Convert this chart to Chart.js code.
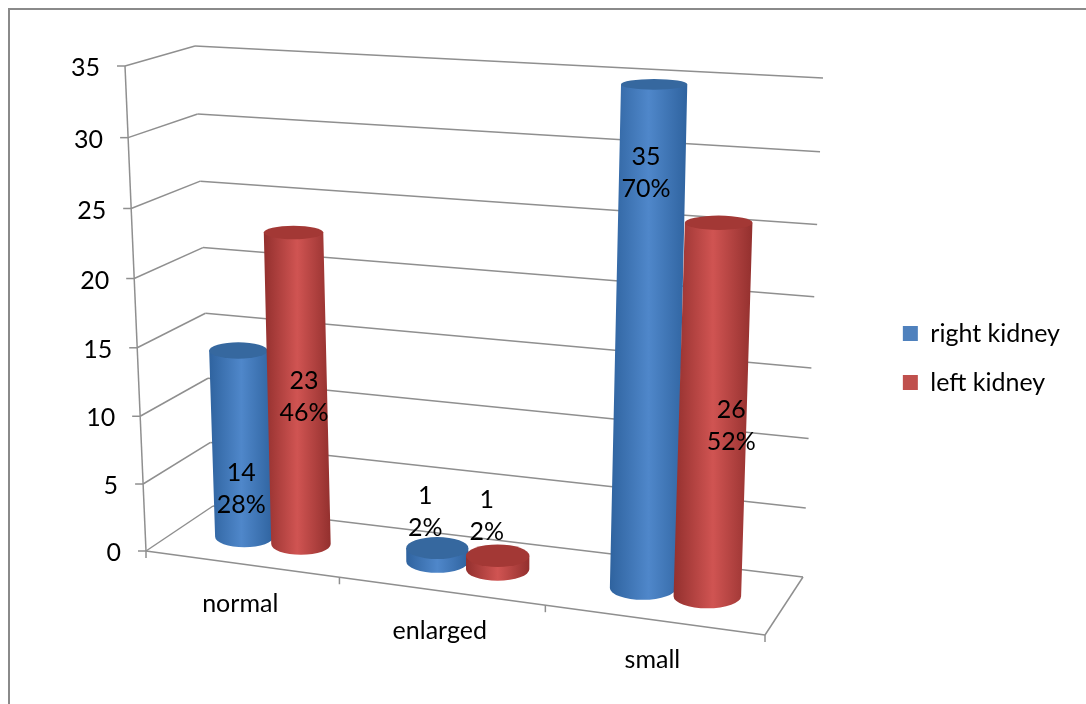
<!DOCTYPE html>
<html lang="en">
  <head>
    <meta charset="UTF-8" />
    <title>Kidney size</title>
    <script src="https://cdn.jsdelivr.net/npm/chart.js"></script>
    <style>
      html, body { margin: 0; padding: 0; background: #fff; overflow: hidden; }
      #kidneyChart { display: block; }
    </style>
  </head>
  <body>
    <canvas id="kidneyChart" width="1086" height="704"></canvas>
    <script>
      var categories = ['normal', 'enlarged', 'small'];
      var rightKidney = [14, 1, 35];
      var leftKidney = [23, 1, 26];
      var rightKidneyPct = ['28%', '2%', '70%'];
      var leftKidneyPct = ['46%', '2%', '52%'];
      var yTicks = [0, 5, 10, 15, 20, 25, 30, 35];

      var FONT = '25px Lato, Carlito, sans-serif';

      // corners of the 3d box on the page, f = front, b = back, l/r, t = top, o = floor
      var box = {
        flo: [146, 551], fro: [765, 635], blo: [213, 506], bro: [803, 577],
        flt: [125, 66], frt: [786, 108], blt: [195, 46], brt: [823, 78]
      };
      var warpX = 0.1;
      var warpY = 0.04;

      function lerp(a, b, t) {
        return [a[0] + (b[0] - a[0]) * t, a[1] + (b[1] - a[1]) * t];
      }

      // u along the categories, v up the value axis, z from front to back, all 0..1
      function project(u, v, z) {
        var uu = u / (1 + warpX * (1 - u));
        var vv = v / (1 + warpY * (1 - v));
        var floor = lerp(lerp(box.flo, box.fro, uu), lerp(box.blo, box.bro, uu), z);
        var top = lerp(lerp(box.flt, box.frt, uu), lerp(box.blt, box.brt, uu), z);
        return lerp(floor, top, vv);
      }

      function line(ctx, a, b) {
        ctx.beginPath();
        ctx.moveTo(a[0], a[1]);
        ctx.lineTo(b[0], b[1]);
        ctx.stroke();
      }

      function drawFrame(ctx) {
        ctx.strokeStyle = '#8a8a8a';
        ctx.lineWidth = 2;
        ctx.beginPath();
        ctx.moveTo(9, 704);
        ctx.lineTo(9, 9);
        ctx.lineTo(1086, 9);
        ctx.stroke();
      }

      function drawWalls(chart, ctx) {
        var y = chart.scales.y;
        var x = chart.scales.x;
        ctx.strokeStyle = '#8f8f8f';
        ctx.lineWidth = 1.5;
        ctx.fillStyle = '#000';
        ctx.font = FONT;
        ctx.textAlign = 'right';
        ctx.textBaseline = 'middle';

        y.ticks.forEach(function (tick) {
          var v = (y.bottom - y.getPixelForValue(tick.value)) / (y.bottom - y.top);
          var front = project(0, v, 0);
          var back = project(0, v, 1);
          line(ctx, front, back);
          line(ctx, back, project(1, v, 1));
          line(ctx, front, [front[0] - 8, front[1]]);
          ctx.fillText(String(tick.value), front[0] - 25, front[1] + 2);
        });
        line(ctx, project(0, 0, 0), project(0, 1, 0));

        // floor front and right edges, ticks between the categories
        line(ctx, project(0, 0, 0), project(1, 0, 0));
        line(ctx, project(1, 0, 0), project(1, 0, 1));
        for (var i = 0; i <= categories.length; i++) {
          var p = project(i / categories.length, 0, 0);
          line(ctx, p, [p[0], p[1] + 7]);
        }

        ctx.textAlign = 'center';
        categories.forEach(function (name, i) {
          var u = (x.getPixelForValue(i) - x.left) / x.width;
          var p = project(u, 0, 0);
          ctx.fillText(name, p[0] - 1, p[1] + 40);
        });
      }

      function drawCylinder(chart, ctx, el, shades) {
        var x = chart.scales.x;
        var y = chart.scales.y;
        var u = (el.x - x.left) / x.width;
        var halfU = el.width / 2 / x.width;
        var v = (y.bottom - el.y) / (y.bottom - y.top);
        var base = project(u, 0, 0.5);
        var top = project(u, v, 0.5);
        var rx = (project(u + halfU, 0, 0.5)[0] - project(u - halfU, 0, 0.5)[0]) / 2;
        var ryBase = rx * 0.36;
        // higher up the ellipses get flatter
        var ryTop = rx * (0.36 - 0.2 * v);

        var grad = ctx.createLinearGradient(Math.min(base[0], top[0]) - rx, 0, Math.max(base[0], top[0]) + rx, 0);
        grad.addColorStop(0, shades.edge);
        grad.addColorStop(0.5, shades.mid);
        grad.addColorStop(1, shades.edge);

        ctx.beginPath();
        ctx.moveTo(top[0] - rx, top[1]);
        ctx.lineTo(base[0] - rx, base[1]);
        ctx.ellipse(base[0], base[1], rx, ryBase, 0, Math.PI, 0, true);
        ctx.lineTo(top[0] + rx, top[1]);
        ctx.closePath();
        ctx.fillStyle = grad;
        ctx.fill();

        ctx.beginPath();
        ctx.ellipse(top[0], top[1], rx, ryTop, 0, 0, Math.PI * 2);
        ctx.fillStyle = shades.top;
        ctx.fill();
      }

      var kidney3d = {
        id: 'kidney3d',
        beforeDatasetsDraw: function (chart, args, opts) {
          var ctx = chart.ctx;
          ctx.save();
          drawFrame(ctx);
          drawWalls(chart, ctx);

          chart.data.datasets.forEach(function (ds, d) {
            chart.getDatasetMeta(d).data.forEach(function (el) {
              drawCylinder(chart, ctx, el, opts.shades[d]);
            });
          });

          // data labels go over all the cylinders
          ctx.fillStyle = '#000';
          ctx.font = FONT;
          ctx.textAlign = 'center';
          ctx.textBaseline = 'middle';
          var pcts = [rightKidneyPct, leftKidneyPct];
          chart.data.datasets.forEach(function (ds, d) {
            chart.getDatasetMeta(d).data.forEach(function (el, i) {
              var x = chart.scales.x;
              var p = project((el.x - x.left) / x.width, 0, 0.5);
              var shift = opts.labelShift[d][i];
              ctx.fillText(String(ds.data[i]), p[0] + shift[0], p[1] - shift[1] - 15);
              ctx.fillText(pcts[d][i], p[0] + shift[0], p[1] - shift[1] + 17);
            });
          });
          ctx.restore();
          return false; // the library's flat bars are replaced by the cylinders
        }
      };

      new Chart(document.getElementById('kidneyChart'), {
        type: 'bar',
        plugins: [kidney3d],
        data: {
          labels: categories,
          datasets: [
            { label: 'right kidney', data: rightKidney, backgroundColor: '#4F81BD' },
            { label: 'left kidney', data: leftKidney, backgroundColor: '#C0504D' }
          ]
        },
        options: {
          responsive: false,
          animation: false,
          categoryPercentage: 0.6,
          barPercentage: 1.04,
          layout: { padding: { top: 12, right: 16, left: 10, bottom: 0 } },
          scales: {
            x: { display: false },
            y: {
              display: false,
              min: 0,
              max: 35,
              afterBuildTicks: function (scale) {
                scale.ticks = yTicks.map(function (t) { return { value: t }; });
              }
            }
          },
          plugins: {
            tooltip: { enabled: false },
            legend: {
              position: 'right',
              labels: {
                color: '#000',
                boxWidth: 15,
                boxHeight: 15,
                padding: 24,
                font: { family: 'Lato, Carlito, sans-serif', size: 25 }
              }
            },
            kidney3d: {
              shades: [
                { edge: '#2f639f', mid: '#4f87ca', top: '#36689f' },
                { edge: '#93302e', mid: '#d05452', top: '#a33835' }
              ],
              labelShift: [
                [[-3, 49], [-12, 51], [3, 416]],
                [[3, 148], [-11, 54], [24, 171]]
              ]
            }
          }
        }
      });
    </script>
  </body>
</html>
